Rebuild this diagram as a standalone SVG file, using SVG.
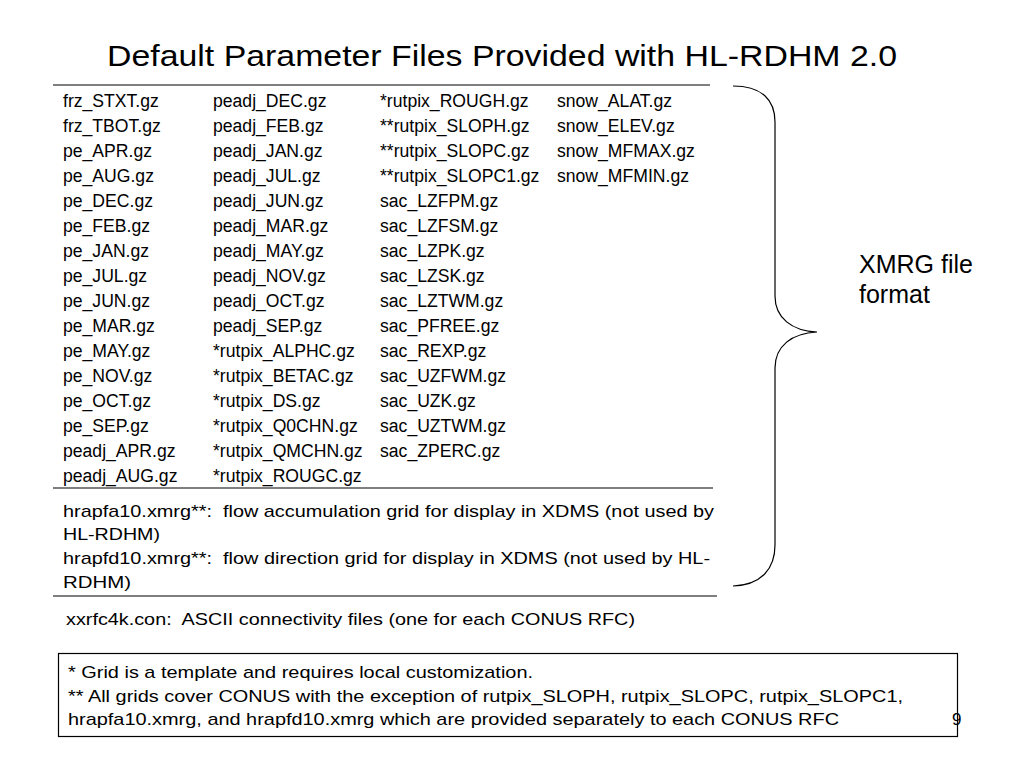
<svg xmlns="http://www.w3.org/2000/svg" width="1024" height="768" viewBox="0 0 1024 768">
<style>
text{font-family:"Liberation Sans",Arial,sans-serif;fill:#000}
.t{font-size:17.6px}
.n{font-size:17px}
.x{font-size:25px}
.ln{stroke:#000;stroke-width:1.2;fill:none}
</style>
<rect width="1024" height="768" fill="#fff"/>
<g id="title"><text x="107" y="66" font-size="29.5" textLength="790" lengthAdjust="spacingAndGlyphs">Default Parameter Files Provided with HL-RDHM 2.0</text></g>
<g id="rules">
<line class="ln" x1="53" y1="85" x2="710" y2="85"/>
<line class="ln" x1="53" y1="488" x2="713" y2="488"/>
<line class="ln" x1="53" y1="596" x2="717" y2="596" stroke="#555"/>
</g>
<g id="file-table" class="t">
<text x="63" y="107">frz_STXT.gz</text><text x="213" y="107">peadj_DEC.gz</text><text x="380" y="107">*rutpix_ROUGH.gz</text><text x="557" y="107">snow_ALAT.gz</text>
<text x="63" y="132">frz_TBOT.gz</text><text x="213" y="132">peadj_FEB.gz</text><text x="380" y="132">**rutpix_SLOPH.gz</text><text x="557" y="132">snow_ELEV.gz</text>
<text x="63" y="157">pe_APR.gz</text><text x="213" y="157">peadj_JAN.gz</text><text x="380" y="157">**rutpix_SLOPC.gz</text><text x="557" y="157">snow_MFMAX.gz</text>
<text x="63" y="182">pe_AUG.gz</text><text x="213" y="182">peadj_JUL.gz</text><text x="380" y="182">**rutpix_SLOPC1.gz</text><text x="557" y="182">snow_MFMIN.gz</text>
<text x="63" y="207">pe_DEC.gz</text><text x="213" y="207">peadj_JUN.gz</text><text x="380" y="207">sac_LZFPM.gz</text>
<text x="63" y="232">pe_FEB.gz</text><text x="213" y="232">peadj_MAR.gz</text><text x="380" y="232">sac_LZFSM.gz</text>
<text x="63" y="257">pe_JAN.gz</text><text x="213" y="257">peadj_MAY.gz</text><text x="380" y="257">sac_LZPK.gz</text>
<text x="63" y="282">pe_JUL.gz</text><text x="213" y="282">peadj_NOV.gz</text><text x="380" y="282">sac_LZSK.gz</text>
<text x="63" y="307">pe_JUN.gz</text><text x="213" y="307">peadj_OCT.gz</text><text x="380" y="307">sac_LZTWM.gz</text>
<text x="63" y="332">pe_MAR.gz</text><text x="213" y="332">peadj_SEP.gz</text><text x="380" y="332">sac_PFREE.gz</text>
<text x="63" y="357">pe_MAY.gz</text><text x="213" y="357">*rutpix_ALPHC.gz</text><text x="380" y="357">sac_REXP.gz</text>
<text x="63" y="382">pe_NOV.gz</text><text x="213" y="382">*rutpix_BETAC.gz</text><text x="380" y="382">sac_UZFWM.gz</text>
<text x="63" y="407">pe_OCT.gz</text><text x="213" y="407">*rutpix_DS.gz</text><text x="380" y="407">sac_UZK.gz</text>
<text x="63" y="432">pe_SEP.gz</text><text x="213" y="432">*rutpix_Q0CHN.gz</text><text x="380" y="432">sac_UZTWM.gz</text>
<text x="63" y="457">peadj_APR.gz</text><text x="213" y="457">*rutpix_QMCHN.gz</text><text x="380" y="457">sac_ZPERC.gz</text>
<text x="63" y="482">peadj_AUG.gz</text><text x="213" y="482">*rutpix_ROUGC.gz</text>
</g>
<g id="grid-notes" class="n">
<text x="63" y="517" xml:space="preserve" textLength="651" lengthAdjust="spacingAndGlyphs">hrapfa10.xmrg**:  flow accumulation grid for display in XDMS (not used by</text>
<text x="63" y="540" textLength="97" lengthAdjust="spacingAndGlyphs">HL-RDHM)</text>
<text x="63" y="564" xml:space="preserve" textLength="647" lengthAdjust="spacingAndGlyphs">hrapfd10.xmrg**:  flow direction grid for display in XDMS (not used by HL-</text>
<text x="63" y="588" textLength="68" lengthAdjust="spacingAndGlyphs">RDHM)</text>
</g>
<g id="connectivity" class="n"><text x="66" y="625" xml:space="preserve" textLength="569" lengthAdjust="spacingAndGlyphs">xxrfc4k.con:  ASCII connectivity files (one for each CONUS RFC)</text></g>
<g id="xmrg-brace">
<path class="ln" d="M733,86 C762,86 775,100 775,122 L775,296 C775,318 792,331 817,332 C792,333 775,346 775,368 L775,545 C775,568 762,585 733,586"/>
<text class="x" x="859" y="273">XMRG file</text>
<text class="x" x="859" y="303">format</text>
</g>
<g id="footnote-box">
<rect x="58.5" y="653.5" width="899" height="83" fill="none" stroke="#000" stroke-width="1.2"/>
<text class="n" x="68" y="678" textLength="465" lengthAdjust="spacingAndGlyphs">* Grid is a template and requires local customization.</text>
<text class="n" x="68" y="702" textLength="835" lengthAdjust="spacingAndGlyphs">** All grids cover CONUS with the exception of rutpix_SLOPH, rutpix_SLOPC, rutpix_SLOPC1,</text>
<text class="n" x="68" y="725" textLength="771" lengthAdjust="spacingAndGlyphs">hrapfa10.xmrg, and hrapfd10.xmrg which are provided separately to each CONUS RFC</text>
</g>
<g id="page-number"><text class="n" x="952" y="725">9</text></g>
</svg>
